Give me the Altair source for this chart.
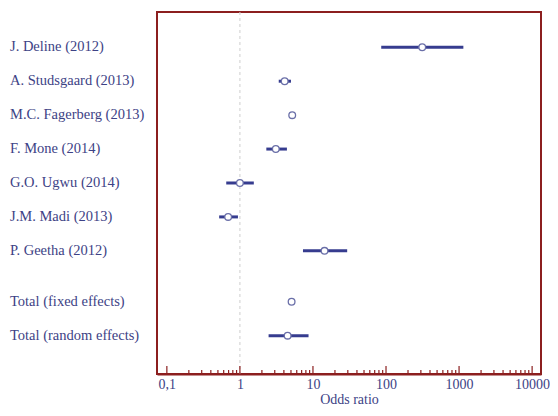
import altair as alt
import pandas as pd

studies = ["J. Deline (2012)", "A. Studsgaard (2013)", "M.C. Fagerberg (2013)",
           "F. Mone (2014)", "G.O. Ugwu (2014)", "J.M. Madi (2013)", "P. Geetha (2012)",
           "Total (fixed effects)", "Total (random effects)"]
odds = [313, 4.1, 5.2, 3.1, 1.0, 0.69, 14.4, 5.1, 4.5]
lower = [86, 3.4, 4.9, 2.3, 0.65, 0.52, 7.3, 4.9, 2.47]
upper = [1145, 5.0, 5.5, 4.4, 1.55, 0.94, 29.4, 5.3, 8.7]
is_total = [False] * 7 + [True, True]

major_ticks = [0.1, 1, 10, 100, 1000, 10000]
minor_ticks = [d * m for d in [0.1, 1, 10, 100, 1000] for m in range(2, 10)]

rows = [i + (0.5 if t else 0) for i, t in enumerate(is_total)]
df = pd.DataFrame({"study": studies, "or": odds, "lo": lower, "hi": upper, "row": rows})
ref = pd.DataFrame({"or": [1]})
maj = pd.DataFrame({"or": major_ticks})
mnr = pd.DataFrame({"or": minor_ticks})

W, H = 384, 362
RED = "#8c1f1f"
BLUE = "#363c8f"
TXT = "#3d4285"
FONT = "Liberation Serif"

xscale = alt.Scale(type="log", domain=[0.0733, 13230], nice=False)
xaxis = alt.Axis(values=major_ticks, labelExpr="datum.value == 0.1 ? '0,1' : format(datum.value, 'd')",
                 tickSize=0, grid=False, domainColor=RED, domainWidth=2,
                 labelFont=FONT, labelFontSize=14, labelColor=TXT, labelPadding=3,
                 titleFont=FONT, titleFontSize=14, titleFontWeight="normal", titleColor=TXT,
                 titlePadding=1, labelFlush=False)
yscale = alt.Scale(domain=[-1.04, 9.63], reverse=True, nice=False, zero=False)

def X(field):
    return alt.X(f"{field}:Q", scale=xscale, axis=xaxis, title="Odds ratio")

vline = alt.Chart(ref).mark_rule(color="#cfcfcf", strokeDash=[3, 3], strokeWidth=1).encode(
    x=X("or"))

ci = alt.Chart(df).mark_rule(color=BLUE, strokeWidth=3).encode(
    x=X("lo"), x2="hi:Q", y=alt.Y("row:Q", scale=yscale, axis=None))

pts = alt.Chart(df).mark_point(shape="circle", filled=True, fill="white", stroke="#6a6fa8",
                               strokeWidth=1.3, size=45, opacity=1).encode(
    x=X("or"), y=alt.Y("row:Q", scale=yscale, axis=None))

labels = alt.Chart(df).mark_text(align="left", baseline="middle", font=FONT, fontSize=14.5,
                                 color=TXT).encode(
    x=alt.value(-147), y=alt.Y("row:Q", scale=yscale, axis=None), text="study:N")

majt = alt.Chart(maj).mark_rule(color=RED, strokeWidth=1.2).encode(
    x=X("or"), y=alt.value(H), y2=alt.value(H - 8))
mint = alt.Chart(mnr).mark_rule(color=RED, strokeWidth=1.2).encode(
    x=X("or"), y=alt.value(H), y2=alt.value(H - 4))

chart = alt.layer(vline, ci, pts, labels, majt, mint).properties(
    width=W, height=H, padding={"left": 2, "top": 3, "right": 0, "bottom": 0},
    background="white"
).configure_view(stroke=RED, strokeWidth=2)

chart.save("out.html", embed_options={"renderer": "svg", "actions": False})
